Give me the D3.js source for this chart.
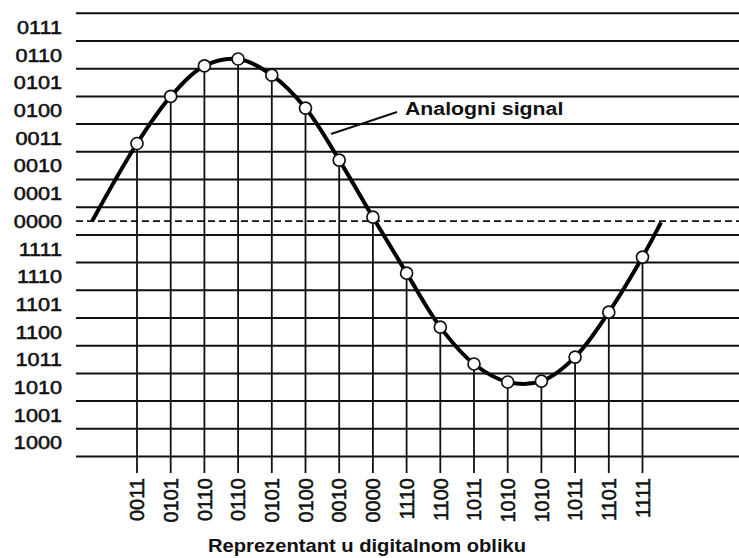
<!DOCTYPE html>
<html>
<head>
<meta charset="utf-8">
<script src="https://cdn.jsdelivr.net/npm/d3@7"></script>
<style>
  html, body { margin: 0; padding: 0; background: #fff; }
  svg { display: block; }
</style>
</head>
<body>
<div id="chart"></div>
<script>
// quantization levels (4-bit codes, two's complement)
var levelCodes = ["0111","0110","0101","0100","0011","0010","0001","0000",
                  "1111","1110","1101","1100","1011","1010","1001","1000"];
var levelValues = [7,6,5,4,3,2,1,0,-1,-2,-3,-4,-5,-6,-7,-8];

// samples: index, analog value at sample instant, digital code
var sampleIndex = [1,2,3,4,5,6,7,8,9,10,11,12,13,14,15,16];
var sampleValues = [2.8,4.5,5.6,5.85,5.27,4.08,2.2,0.14,-1.88,-3.83,-5.16,-5.81,-5.78,-4.91,-3.29,-1.3];
var sampleCodes = ["0011","0101","0110","0110","0101","0100","0010","0000",
                   "1110","1100","1011","1010","1010","1011","1101","1111"];

// ends of the analog curve (outside the sampled range)
var curveStart = [-0.33, 0.0];
var curveEnd = [16.55, -0.05];

var signalLabel = "Analogni signal";
var xTitle = "Reprezentant u digitalnom obliku";

var width = 739, height = 558;
var fontFam = "'Liberation Sans', Arial, Helvetica, sans-serif";

var svg = d3.select("#chart").append("svg")
  .attr("width", width)
  .attr("height", height);

var x = d3.scaleLinear().domain([1, 16]).range([137, 642.5]);
var y = d3.scaleLinear().domain([-8.5, 7.5]).range([456.5, 13.3]);

var gridLeft = 76, gridRight = width;
var stemBottom = 473;

// horizontal level boundaries
var bounds = levelValues.map(function(v){ return v + 0.5; }).concat([-8.5]);
svg.append("g").selectAll("line")
  .data(bounds)
  .join("line")
  .attr("x1", gridLeft).attr("x2", gridRight)
  .attr("y1", function(d){ return y(d); })
  .attr("y2", function(d){ return y(d); })
  .attr("stroke", "#111")
  .attr("stroke-width", 2);

// zero (dashed) line
svg.append("line")
  .attr("x1", gridLeft).attr("x2", gridRight)
  .attr("y1", y(0)).attr("y2", y(0))
  .attr("stroke", "#111")
  .attr("stroke-width", 1.7)
  .attr("stroke-dasharray", "7,4");

// level code labels
svg.append("g").selectAll("text")
  .data(levelCodes)
  .join("text")
  .attr("transform", function(d, i){ return "translate(62," + y(levelValues[i]) + ") scale(1.14,1)"; })
  .attr("text-anchor", "end")
  .attr("dy", "0.36em")
  .style("font-family", fontFam)
  .style("font-size", "19px")
  .attr("fill", "#111")
  .attr("stroke", "#111")
  .attr("stroke-width", 0.55)
  .text(function(d){ return d; });

// sample stems
svg.append("g").selectAll("line")
  .data(sampleIndex)
  .join("line")
  .attr("x1", function(d){ return x(d); })
  .attr("x2", function(d){ return x(d); })
  .attr("y1", function(d, i){ return y(sampleValues[i]); })
  .attr("y2", stemBottom)
  .attr("stroke", "#111")
  .attr("stroke-width", 1.8);

// analog signal curve
var curvePts = [curveStart].concat(sampleIndex.map(function(d, i){ return [d, sampleValues[i]]; })).concat([curveEnd]);
var line = d3.line()
  .x(function(d){ return x(d[0]); })
  .y(function(d){ return y(d[1]); })
  .curve(d3.curveCatmullRom.alpha(0.5));

svg.append("path")
  .datum(curvePts)
  .attr("d", line)
  .attr("fill", "none")
  .attr("stroke", "#000")
  .attr("stroke-width", 4)
  .attr("stroke-linecap", "butt");

// sample points
svg.append("g").selectAll("circle")
  .data(sampleIndex)
  .join("circle")
  .attr("cx", function(d){ return x(d); })
  .attr("cy", function(d, i){ return y(sampleValues[i]); })
  .attr("r", 6)
  .attr("fill", "#fff")
  .attr("stroke", "#111")
  .attr("stroke-width", 1.7);

// digital codes under each sample
svg.append("g").selectAll("text")
  .data(sampleCodes)
  .join("text")
  .attr("transform", function(d, i){ return "translate(" + x(sampleIndex[i]) + ",478) rotate(-90)"; })
  .attr("text-anchor", "end")
  .attr("dy", "0.36em")
  .style("font-family", fontFam)
  .style("font-size", "20px")
  .attr("fill", "#111")
  .attr("stroke", "#111")
  .attr("stroke-width", 0.55)
  .text(function(d){ return d; });

// signal annotation
svg.append("line")
  .attr("x1", 397).attr("y1", 112)
  .attr("x2", 331).attr("y2", 134)
  .attr("stroke", "#111")
  .attr("stroke-width", 1.9);

svg.append("text")
  .attr("transform", "translate(405,115) scale(1.12,1)")
  .style("font-family", fontFam)
  .style("font-size", "19px")
  .style("font-weight", "bold")
  .attr("fill", "#111")
  .text(signalLabel);

// axis title
svg.append("text")
  .attr("transform", "translate(367,552) scale(1.12,1)")
  .attr("text-anchor", "middle")
  .style("font-family", fontFam)
  .style("font-size", "18px")
  .style("font-weight", "bold")
  .attr("fill", "#111")
  .text(xTitle);
</script>
</body>
</html>
